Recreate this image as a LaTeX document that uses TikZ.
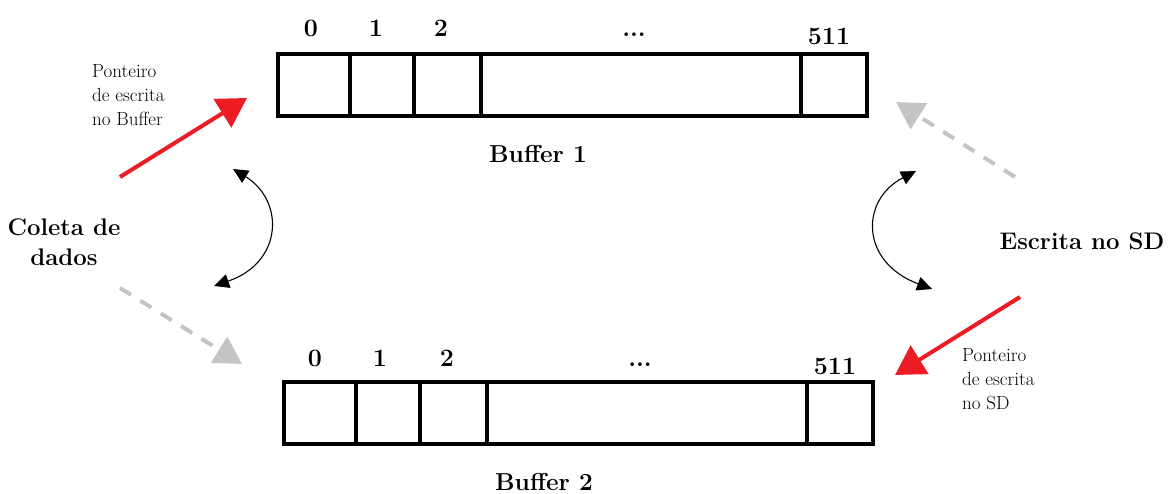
\documentclass[tikz,border=0pt]{standalone}
\usetikzlibrary{arrows.meta}
\definecolor{ptrred}{RGB}{237,28,36}
\definecolor{ghost}{RGB}{196,196,196}
\tikzset{
  cell/.style={draw=black, line width=4pt, minimum height=62pt, inner sep=0pt, anchor=north west},
  idx/.style={font=\fontsize{25}{25}\selectfont\bfseries, anchor=base},
  title/.style={font=\fontsize{24.5}{24.5}\selectfont\bfseries, anchor=base},
  side/.style={font=\fontsize{24}{30}\selectfont\bfseries, align=center},
  note/.style={font=\fontsize{19}{24}\selectfont, align=left, anchor=north west, inner sep=0pt},
  ptr/.style={draw=ptrred, line width=4pt, -{Triangle[length=29pt,width=33pt]}},
  next/.style={draw=ghost, line width=4pt, dash pattern=on 13pt off 11pt, -{Triangle[length=27pt,width=30pt]}},
  swap/.style={draw=black, line width=1.1pt, {Triangle[length=15pt,width=14pt]}-{Triangle[length=15pt,width=14pt]}}
}
\begin{document}
\begin{tikzpicture}[x=1pt,y=-1pt]
\useasboundingbox (0,0) rectangle (1170,494);

% Buffer 1
\node[cell, minimum width=72pt]  (a0) at (276,52) {};
\node[cell, minimum width=64pt]  (a1) at (348,52) {};
\node[cell, minimum width=67pt]  (a2) at (412,52) {};
\node[cell, minimum width=320pt] (a3) at (479,52) {};
\node[cell, minimum width=66pt]  (a4) at (799,52) {};
\node[idx] (la0) at (311,37) {0};
\node[idx] (la1) at (376,37) {1};
\node[idx] (la2) at (441,37) {2};
\node[idx] (la3) at (634,37) {...};
\node[idx] (la4) at (829,45) {511};
\node[title] (t1) at (538,163) {Buffer 1};

% Buffer 2
\node[cell, minimum width=72pt]  (b0) at (282,380) {};
\node[cell, minimum width=64pt]  (b1) at (354,380) {};
\node[cell, minimum width=67pt]  (b2) at (418,380) {};
\node[cell, minimum width=320pt] (b3) at (485,380) {};
\node[cell, minimum width=66pt]  (b4) at (805,380) {};
\node[idx] (lb0) at (315,366) {0};
\node[idx] (lb1) at (380,366) {1};
\node[idx] (lb2) at (447,366) {2};
\node[idx] (lb3) at (640,366) {...};
\node[idx] (lb4) at (835,374) {511};
\node[title] (t2) at (544,490) {Buffer 2};

% Side labels
\node[side] (collect) at (64,242) {Coleta de\\dados};
\node[side] (write) at (1082,241) {Escrita no SD};

% Pointer notes
\node[note] (n1) at (92,64) {Ponteiro\\de escrita\\no Buffer};
\node[note] (n2) at (962,348) {Ponteiro\\de escrita\\no SD};

% Arrow end points
\coordinate (p1s) at (120,177);
\coordinate (p1e) at (247,98);
\coordinate (g1s) at (120,288);
\coordinate (g1e) at (242,364);
\coordinate (g2s) at (1015,177);
\coordinate (g2e) at (896,102);
\coordinate (p2s) at (1020,297);
\coordinate (p2e) at (895,375);
\coordinate (s1t) at (233,169);
\coordinate (s1b) at (214,286);
\coordinate (s2t) at (916,171);
\coordinate (s2b) at (932,289);

% Write pointers
\draw[ptr] (p1s) -- (p1e);
\draw[ptr] (p2s) -- (p2e);

% Next-buffer pointers
\draw[next] (g1s) -- (g1e);
\draw[next] (g2s) -- (g2e);

% Buffer swaps
\draw[swap] (s1t) .. controls (284,200) and (284,262) .. (s1b);
\draw[swap] (s2t) .. controls (860,200) and (860,262) .. (s2b);
\end{tikzpicture}
\end{document}
